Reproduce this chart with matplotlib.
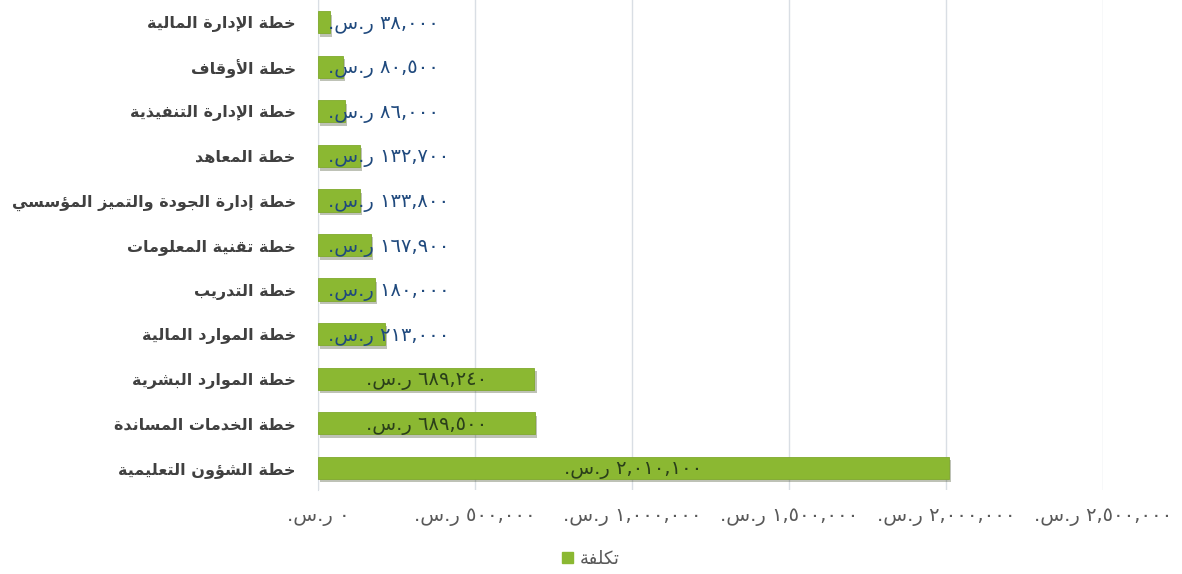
import re
import matplotlib
matplotlib.use('Agg')
import matplotlib.pyplot as plt
from matplotlib.patches import Patch
from matplotlib import patheffects as pe

plans = [
    'خطة الإدارة المالية',
    'خطة الأوقاف',
    'خطة الإدارة التنفيذية',
    'خطة المعاهد',
    'خطة إدارة الجودة والتميز المؤسسي',
    'خطة تقنية المعلومات',
    'خطة التدريب',
    'خطة الموارد المالية',
    'خطة الموارد البشرية',
    'خطة الخدمات المساندة',
    'خطة الشؤون التعليمية',
]
costs = [38000, 80500, 86000, 132700, 133800, 167900, 180000, 213000,
         689240, 689500, 2010100]
x_ticks = [0, 500000, 1000000, 1500000, 2000000, 2500000]
currency = 'ر.س.'
legend_label = 'تكلفة'

# matplotlib has no Arabic shaping, so pick presentation forms by hand
DUAL = {'ئ': 0xFE89, 'ب': 0xFE8F, 'ت': 0xFE95, 'ث': 0xFE99, 'ج': 0xFE9D,
        'ح': 0xFEA1, 'خ': 0xFEA5, 'س': 0xFEB1, 'ش': 0xFEB5, 'ص': 0xFEB9,
        'ض': 0xFEBD, 'ط': 0xFEC1, 'ظ': 0xFEC5, 'ع': 0xFEC9, 'غ': 0xFECD,
        'ف': 0xFED1, 'ق': 0xFED5, 'ك': 0xFED9, 'ل': 0xFEDD, 'م': 0xFEE1,
        'ن': 0xFEE5, 'ه': 0xFEE9, 'ي': 0xFEF1}
RIGHT = {'آ': 0xFE81, 'أ': 0xFE83, 'ؤ': 0xFE85, 'إ': 0xFE87, 'ا': 0xFE8D,
         'ة': 0xFE93, 'د': 0xFEA9, 'ذ': 0xFEAB, 'ر': 0xFEAD, 'ز': 0xFEAF,
         'و': 0xFEED, 'ى': 0xFEEF}
LAM_ALEF = {'آ': 0xFEF5, 'أ': 0xFEF7, 'إ': 0xFEF9, 'ا': 0xFEFB}


def shape(text):
    out = []
    i = 0
    while i < len(text):
        c = text[i]
        prev = text[i - 1] if i > 0 else ''
        joins_prev = prev in DUAL
        nxt = text[i + 1] if i + 1 < len(text) else ''
        if c == 'ل' and nxt in LAM_ALEF:
            out.append(chr(LAM_ALEF[nxt] + (1 if joins_prev else 0)))
            i += 2
            continue
        joins_next = c in DUAL and (nxt in DUAL or nxt in RIGHT)
        if c in DUAL:
            form = {(False, False): 0, (True, False): 1,
                    (False, True): 2, (True, True): 3}[(joins_prev, joins_next)]
            out.append(chr(DUAL[c] + form))
        elif c in RIGHT:
            out.append(chr(RIGHT[c] + (1 if joins_prev else 0)))
        else:
            out.append(c)
        i += 1
    return ''.join(out)


def ar(text):
    shaped = shape(text)
    parts = re.findall(r'[\u0660-\u0669][\u0660-\u0669,]*|[^\u0660-\u0669]+', shaped)
    return ''.join(p if p[0] in '٠١٢٣٤٥٦٧٨٩' else p[::-1] for p in reversed(parts))


def money(v):
    digits = f'{v:,}'.translate(str.maketrans('0123456789', '٠١٢٣٤٥٦٧٨٩'))
    return ar(f'{digits} {currency}')


plt.rcParams['font.family'] = ['DejaVu Sans']

fig = plt.figure(figsize=(11.82, 5.74), dpi=100)
ax = fig.add_axes([318 / 1182, 84 / 574, 785 / 1182, 490 / 574])

green = '#8BB832'
y = list(range(len(plans)))
bars = ax.barh(y, costs, height=0.5, color=green, edgecolor='#7FA92C',
               linewidth=0.6, zorder=3)
for b in bars:
    b.set_path_effects([pe.SimplePatchShadow(offset=(1.5, -2.5), alpha=0.3),
                        pe.Normal()])

ax.set_ylim(len(plans) - 0.5, -0.5)
ax.set_xlim(0, x_ticks[-1])
ax.set_xticks(x_ticks)
ax.set_xticklabels([money(v) for v in x_ticks], fontsize=14, color='#595959')
ax.set_yticks(y)
ax.set_yticklabels([ar(p) for p in plans], fontsize=11.5, fontweight='bold',
                   color='#404040')
ax.tick_params(axis='both', length=0)
ax.tick_params(axis='x', pad=12)
ax.tick_params(axis='y', pad=16)
ax.grid(axis='x', color='#D9DEE4', linewidth=1, zorder=0)
for s in ['top', 'right', 'bottom']:
    ax.spines[s].set_visible(False)
ax.spines['left'].set_color('#D9DEE4')

for yi, v in zip(y, costs):
    if v < 400000:
        ax.annotate(money(v), xy=(0, yi), xytext=(7, -1.5), textcoords='offset points',
                    ha='left', va='center', fontsize=14, color='#1F497D', zorder=4)
    else:
        ax.annotate(money(v), xy=(v / 2, yi), xytext=(0, -1.5), textcoords='offset points',
                    ha='center', va='center', fontsize=14, color='#2A3F1A', zorder=4)

fig.legend(handles=[Patch(color=green, label=ar(legend_label))],
           loc='center', bbox_to_anchor=(0.5, 1 - 559 / 574), frameon=False,
           fontsize=13, handlelength=0.6, handleheight=0.6, handletextpad=0.4,
           labelcolor='#595959')

fig.savefig('out.png', dpi=100)
